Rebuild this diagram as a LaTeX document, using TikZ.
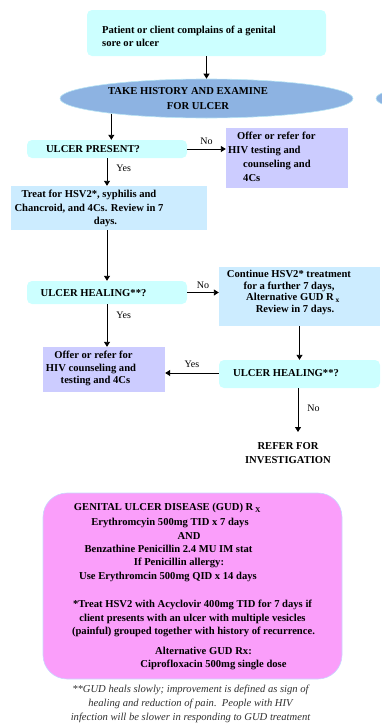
\documentclass[tikz,border=0pt]{standalone}
\usepackage{fontspec}
\setmainfont{Liberation Serif}
\usetikzlibrary{arrows.meta,shapes.geometric}
\definecolor{cyanbox}{HTML}{CCFFFF}
\definecolor{bluebox}{HTML}{CCECFF}
\definecolor{purplebox}{HTML}{CCCCFF}
\definecolor{ellblue}{HTML}{8DB3E2}
\definecolor{ellborder}{HTML}{B8E4F4}
\definecolor{pinkbox}{HTML}{FA9EFA}
\definecolor{pinkborder}{HTML}{C8D8FF}
\definecolor{notegray}{HTML}{303030}
\begin{document}
\begin{tikzpicture}[x=1pt,y=-1pt,
  txt/.style={font=\fontsize{10.6}{13.5}\selectfont\bfseries, inner sep=0pt},
  lbl/.style={font=\fontsize{10}{11}\selectfont, inner sep=0pt},
  note/.style={font=\fontsize{10.6}{14}\selectfont\itshape, text=notegray, inner sep=0pt},
  arr/.style={-{Triangle[width=6pt,length=5pt]}, line width=0.9pt},
  cbox/.style={fill=cyanbox, rounded corners=5pt, inner sep=0pt},
  bbox/.style={fill=bluebox, inner sep=0pt},
  pbox/.style={fill=purplebox, inner sep=0pt}]
\useasboundingbox (0,0) rectangle (382,728);

% shapes
\node[cbox, minimum width=239pt, minimum height=46pt] (start) at (206.5,33) {};
\node[ellipse, fill=ellblue, draw=ellborder, line width=0.6pt, minimum width=293pt, minimum height=39pt] (hist) at (206.5,98.5) {};
\node[ellipse, fill=ellblue, draw=ellborder, line width=0.6pt, minimum width=293pt, minimum height=39pt] (hist2) at (522.5,98.5) {};
\node[cbox, minimum width=160pt, minimum height=18pt] (present) at (107,149) {};
\node[pbox, minimum width=122pt, minimum height=60pt] (offer1) at (287,158) {};
\node[bbox, minimum width=196pt, minimum height=44pt] (treat) at (109,208) {};
\node[cbox, minimum width=160pt, minimum height=23pt] (heal1) at (107,292.5) {};
\node[bbox, minimum width=161pt, minimum height=59pt] (cont) at (299.5,296.5) {};
\node[cbox, minimum width=161pt, minimum height=28pt] (heal2) at (299.5,374) {};
\node[pbox, minimum width=122pt, minimum height=45pt] (offer2) at (104,369.5) {};
\node[fill=pinkbox, draw=pinkborder, line width=0.6pt, rounded corners=24pt, minimum width=299pt, minimum height=186pt] (rx) at (192.5,586) {};

% texts
\node[txt, align=left, anchor=west] (startt) at (102,36.5) {Patient or client complains of a genital\\sore or ulcer};
\node[txt] (histt1) at (188,91) {TAKE HISTORY AND EXAMINE};
\node[txt] (histt2) at (198,106) {FOR ULCER};
\node[txt] (presentt) at (93,149) {ULCER PRESENT?};
\node[txt, align=left, anchor=west, font=\fontsize{10.6}{14}\selectfont\bfseries] (offer1t) at (228,157) {\hspace*{9pt}Offer or refer for\\HIV testing and\\\hspace*{15pt}counseling and\\\hspace*{15pt}4Cs};
\node[txt, align=center] (treatt) at (89,208.5) {Treat for HSV2*, syphilis and\\Chancroid, and 4Cs. Review in 7\\\hspace*{33pt}days.};
\node[txt] (heal1t) at (93.5,293) {ULCER HEALING**?};
\node[txt, align=center, font=\fontsize{10.6}{11.7}\selectfont\bfseries] (contt) at (289,292.5) {Continue HSV2* treatment\\for a further 7 days,\\\hspace*{8pt}Alternative GUD R\,\textsubscript{x}\\\hspace*{12pt}Review in 7 days.};
\node[txt] (heal2t) at (286,373) {ULCER HEALING**?};
\node[txt, align=center, font=\fontsize{10.6}{12.5}\selectfont\bfseries] (offer2t) at (91,368.5) {\hspace*{5pt}Offer or refer for\\HIV counseling and\\\hspace*{9pt}testing and 4Cs};
\node[txt, align=center] (refer) at (288,453) {REFER FOR\\INVESTIGATION};

\node[txt] (g1) at (167.5,508) {GENITAL ULCER DISEASE (GUD) R\,\textsubscript{X}};
\node[txt] (g2) at (170,523) {Erythromcyin 500mg TID x 7 days};
\node[txt] (g3) at (189,536) {AND};
\node[txt] (g4) at (168.5,549) {Benzathine Penicillin 2.4 MU IM stat};
\node[txt] (g5) at (179,562.5) {If Penicillin allergy:};
\node[txt] (g6) at (168,577) {Use Erythromcin 500mg QID x 14 days};
\node[txt] (g7) at (192.5,605) {*Treat HSV2 with Acyclovir 400mg TID for 7 days if};
\node[txt] (g8) at (192.5,618.5) {client presents with an ulcer with multiple vesicles};
\node[txt] (g9) at (193.5,632) {(painful) grouped together with history of recurrence.};
\node[txt] (g10) at (203.5,651) {Alternative GUD Rx:};
\node[txt] (g11) at (213.5,664.5) {Ciprofloxacin 500mg single dose};

\node[note, align=center] (foot) at (190.5,704) {**GUD heals slowly; improvement is defined as sign of\\healing and reduction of pain.\ \ People with HIV\\infection will be slower in responding to GUD treatment};

% connectors
\coordinate (refertop) at (298,432);
\draw[arr] (start.south) -- (hist.north);
\draw[arr] (hist.189.3) -- (hist.189.3 |- present.north);
\draw[arr] (present.east) -- (present.east -| offer1.west) node[lbl, midway, above=4pt] (no1) {No};
\draw[arr] (present.south) -- (present.south |- treat.north) node[lbl, pos=0.35, right=9pt] (yes1) {Yes};
\draw[arr] (heal1.north |- treat.south) -- (heal1.north);
\draw[arr] (heal1.east) -- (heal1.east -| cont.west) node[lbl, midway, above=3pt] (no2) {No};
\draw[arr] (cont.south -| heal2.north) -- (heal2.north);
\draw[arr] (heal1.south) -- (heal1.south |- offer2.north) node[lbl, pos=0.27, right=9pt] (yes2) {Yes};
\draw[arr] (heal2.west |- 0,373) -- (offer2.east |- 0,373) node[lbl, midway, above=5pt] (yes3) {Yes};
\draw[arr] (heal2.south -| refertop) -- (refertop) node[lbl, pos=0.45, right=9pt] (no3) {No};
\end{tikzpicture}
\end{document}
